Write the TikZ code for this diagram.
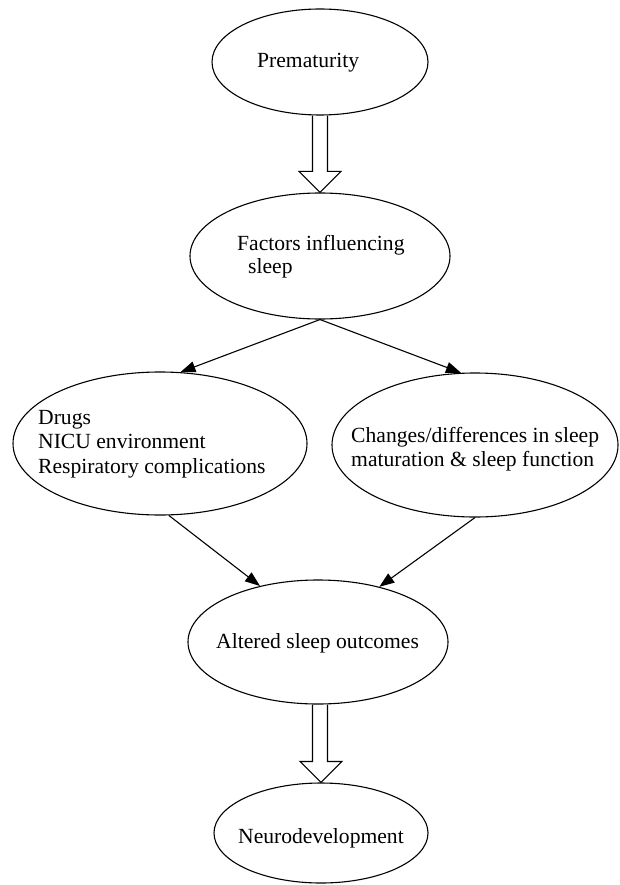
\documentclass[tikz,border=0pt]{standalone}
\usepackage{fontspec}
\setmainfont{Liberation Serif}
\usetikzlibrary{shapes.geometric,arrows.meta,calc}
\begin{document}
\begin{tikzpicture}[x=1pt,y=-1pt,
  ell/.style={ellipse,draw,line width=1.1pt,inner sep=0pt},
  lbl/.style={anchor=base west,inner sep=0pt,font=\fontsize{21.6}{24}\selectfont},
  conn/.style={line width=1.1pt,-{Triangle[length=15pt,width=11pt]}},
  hollow/.style={line width=1.1pt,line join=miter}]
\useasboundingbox (0,0) rectangle (619,885);
% ellipses
\node[ell,minimum width=216pt,minimum height=106pt] (prem) at (320,62) {};
\node[ell,minimum width=260pt,minimum height=126pt] (factors) at (320,256) {};
\node[ell,minimum width=294pt,minimum height=143pt] (drugs) at (160,443.5) {};
\node[ell,minimum width=286pt,minimum height=144pt] (changes) at (475,445) {};
\node[ell,minimum width=260pt,minimum height=124pt] (altered) at (318,642) {};
\node[ell,minimum width=214pt,minimum height=100pt] (neuro) at (321,833) {};
% texts
\node[lbl] (tprem) at (257,68) {Prematurity};
\node[lbl] (tfac1) at (237,250) {Factors influencing};
\node[lbl] (tfac2) at (248,273) {sleep};
\node[lbl] (tdr1) at (38,424) {Drugs};
\node[lbl] (tdr2) at (38,448.5) {NICU environment};
\node[lbl] (tdr3) at (38,473.5) {Respiratory complications};
\node[lbl] (tch1) at (351,442.5) {Changes/differences in sleep};
\node[lbl] (tch2) at (351,466.5) {maturation \& sleep function};
\node[lbl] (talt) at (216,648) {Altered sleep outcomes};
\node[lbl] (tneu) at (238,843) {Neurodevelopment};
% connectors
\draw[conn] (factors.south) -- (drugs.74.3);
\draw[conn] (factors.south) -- (changes.101.8);
\draw[conn] (drugs.277.9) -- (altered.136);
\draw[conn] (changes.270) -- (altered.42.6);
% hollow arrows
\draw[hollow] ($(prem.south)+(-7.5,0)$) -- ($(factors.north)+(-7.5,-21)$)
  -- ($(factors.north)+(-21,-21)$) -- (factors.north)
  -- ($(factors.north)+(21,-21)$) -- ($(factors.north)+(7.5,-21)$)
  -- ($(prem.south)+(7.5,0)$);
\coordinate (a2top) at (altered.south -| neuro.north);
\draw[hollow] ($(a2top)+(-8.5,0)$) -- ($(neuro.north)+(-8.5,-21)$)
  -- ($(neuro.north)+(-21,-21)$) -- (neuro.north)
  -- ($(neuro.north)+(21,-21)$) -- ($(neuro.north)+(6.5,-21)$)
  -- ($(a2top)+(6.5,0)$);
\end{tikzpicture}
\end{document}
